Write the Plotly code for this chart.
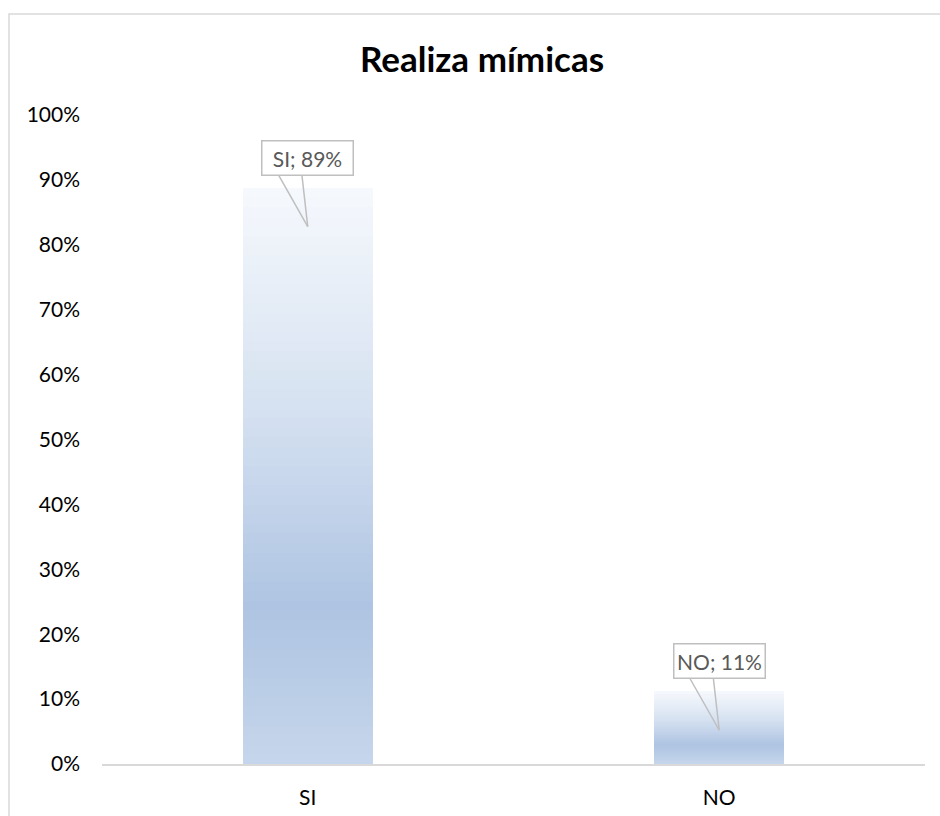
import plotly.graph_objects as go

# ---- data ----
categories = ["SI", "NO"]
values = [0.888, 0.112]
tick_vals = [0.0, 0.1, 0.2, 0.3, 0.4, 0.5, 0.6, 0.7, 0.8, 0.9, 1.0]
tick_text = ["0%", "10%", "20%", "30%", "40%", "50%", "60%", "70%", "80%", "90%", "100%"]
title_text = "Realiza mímicas"

# ---- style ----
W, H = 940, 816
ML, MR, MT, MB = 102, 15, 115, 52
FONT = "Lato, Carlito, Calibri, sans-serif"
N_SLICES = 60
# gradient stops: position from bottom (0) to top (1)
stops = [(0.0, (198, 214, 235)), (0.27, (174, 196, 226)), (0.6, (212, 224, 240)), (1.0, (246, 249, 253))]


def grad(t):
    for (p0, c0), (p1, c1) in zip(stops[:-1], stops[1:]):
        if p0 <= t <= p1:
            f = (t - p0) / (p1 - p0)
            c = [round(a + (b - a) * f) for a, b in zip(c0, c1)]
            return "rgb({},{},{})".format(*c)
    return "rgb({},{},{})".format(*stops[-1][1])


fig = go.Figure()
for i in range(N_SLICES):
    t = (i + 0.5) / N_SLICES
    fig.add_trace(go.Bar(
        x=categories,
        y=[v / N_SLICES for v in values],
        marker=dict(color=grad(t), line=dict(width=0)),
        hoverinfo="skip",
        showlegend=False,
    ))

# callout labels
for c, v in zip(categories, values):
    tip = v - 0.06
    label = f"{c}; {v:.0%}"
    # pointer wedge (two edges)
    for dx in (-30, -6):
        fig.add_annotation(x=c, y=tip, text="", showarrow=True, arrowhead=0,
                           arrowwidth=1.5, arrowcolor="#bfbfbf", ax=dx, ay=-53, standoff=0)
    fig.add_annotation(x=c, y=tip, text=label, showarrow=False, yshift=69, xshift=0,
                       font=dict(family=FONT, size=21, color="#595959"),
                       bgcolor="white", bordercolor="#bfbfbf", borderwidth=1.5,
                       width=88, height=31, borderpad=1)

pw = W - ML - MR
ph = H - MT - MB
fig.add_shape(type="rect", xref="paper", yref="paper",
              x0=(9 - ML) / pw, x1=(W + 20 - ML) / pw,
              y0=-(H + 20 - MT - ph) / ph, y1=1 + (MT - 14) / ph,
              line=dict(color="#d9d9d9", width=1.5), fillcolor="rgba(0,0,0,0)", layer="below")

fig.update_layout(
    width=W, height=H,
    margin=dict(l=ML, r=MR, t=MT, b=MB, autoexpand=False),
    paper_bgcolor="white", plot_bgcolor="white",
    barmode="stack", bargap=0.684,
    title=dict(text=f"<b>{title_text}</b>", x=482 / W, xanchor="center", y=1 - 60 / H, yanchor="middle",
               font=dict(family=FONT, size=35, color="#000000")),
    xaxis=dict(showline=True, linecolor="#d9d9d9", linewidth=1.5, ticks="", showgrid=False,
               ticklabelstandoff=14, automargin=False,
               tickfont=dict(family=FONT, size=21, color="#000000"), zeroline=False),
    yaxis=dict(range=[0, 1], tickvals=tick_vals, ticktext=tick_text, showgrid=False, zeroline=False,
               showline=False, ticks="", ticklabelstandoff=21, automargin=False,
               tickfont=dict(family=FONT, size=21, color="#000000")),
    showlegend=False,
)

fig.write_html("out.html", config={"displayModeBar": False},
               post_script="document.body.style.margin='0px';document.body.style.overflow='hidden';")
